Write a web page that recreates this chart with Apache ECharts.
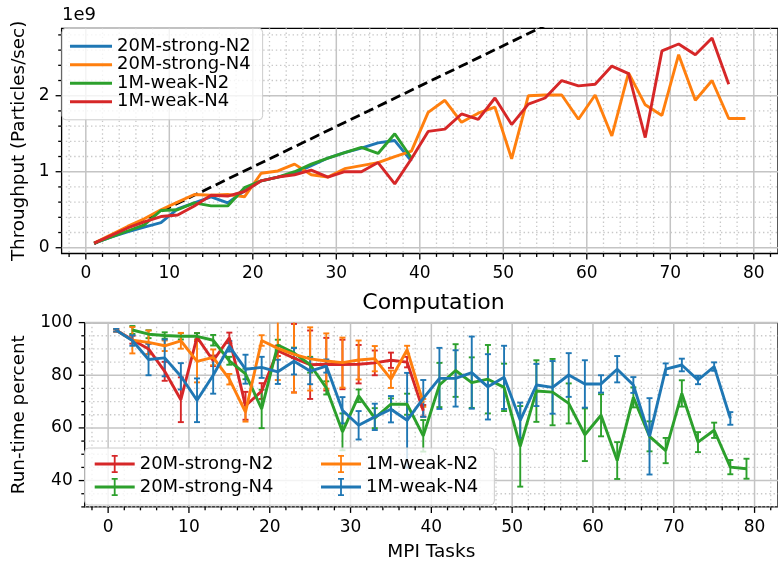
<!DOCTYPE html>
<html><head><meta charset="utf-8">
<script src="https://cdn.jsdelivr.net/npm/echarts@6/dist/echarts.min.js"></script>
<style>html,body{margin:0;padding:0;background:#fff}#c{width:778px;height:563px}</style>
</head><body><div id="c"></div>
<script>
// ---------- data ----------
const tasks = [1,3,5,7,9,11,13,15,17,19,21,23,25,27,29,31,33,35,37,39,41,43,45,47,49,51,53,55,57,59,61,63,65,67,69,71,73,75,77,79];

// Throughput (x 1e9 particles/sec)
const thrStrongN2 = [0.06,0.14,0.21,0.27,0.33,0.51,0.59,0.67,0.59,0.75,0.88,0.93,0.98,1.08,1.18,1.25,1.31,1.38,1.41,1.14];
const thrStrongN4 = [0.06,0.17,0.28,0.38,0.50,0.60,0.70,0.69,0.70,0.67,0.98,1.01,1.10,0.96,0.93,1.04,1.08,1.12,1.20,1.27,
                     1.78,1.94,1.65,1.77,1.85,1.17,2.00,2.01,2.01,1.69,2.01,1.47,2.30,1.88,1.74,2.54,1.94,2.20,1.70,1.70];
const thrWeakN2 = [0.06,0.14,0.22,0.30,0.49,0.50,0.59,0.55,0.55,0.79,0.88,0.93,1.00,1.10,1.18,1.25,1.32,1.24,1.50,1.18];
const thrWeakN4 = [0.06,0.16,0.26,0.34,0.41,0.43,0.55,0.69,0.68,0.74,0.88,0.93,0.96,1.02,0.93,1.00,1.00,1.12,0.84,1.17,
                   1.53,1.56,1.76,1.69,1.97,1.62,1.89,1.97,2.20,2.13,2.15,2.39,2.29,1.45,2.59,2.68,2.54,2.76,2.15];
const idealX = [1, 79];
const idealY = [0.053, 4.2];

// Run-time percent (mean and error)
const rtStrongN2 = [97.1,93.5,90.0,81.5,70.7,94.5,85.5,94.2,68.4,74.0,89.3,86.5,84.0,84.2,84.1,84.2,84.7,85.7,85.0,66.5];
const rtStrongN2Err = [0.5,1.5,2,3.6,8.5,1.5,2,2,5.3,3,2,13,13,10,9.4,7.3,4.7,2.9,2,2.2];
const rtStrongN4 = [97.2,95.6,95.1,94.8,94.8,93.3,85.5,80.5,67.2,91.5,88.5,84.0,75.2,58.5,72.2,63.7,69.0,69.0,57.0,76.3,
                    81.8,77.2,78.5,75.4,53.0,74.0,73.6,69.3,57.4,64.8,47.6,71.6,56.8,51.4,73.1,54.6,59.1,45.1,44.5];
const rtStrongN4Err = [1.5,1.5,1.2,1.2,1.2,2,1.5,2,7.3,2,2,3,2.5,7,2.4,3.8,2.2,4,6,8.4,
                       10,9.6,13,9,15.3,11.7,12.6,7.6,10,8,7,3.8,5.7,4.8,5,3.8,2.9,2.7,3.8];
const rtWeakN2 = [97.1,93.3,92.5,91.2,93.1,85.3,86.8,78.5,66.0,93.2,90.2,87.9,86.2,85.4,84.8,85.8,86.3,78.5,89.7,69.5];
const rtWeakN2Err = [0.5,5,4.5,2,3,8,3,2,3.6,2,12,14.5,12,10.5,9.5,7.4,4.8,3.3,1.5,1.5];
const rtWeakN4 = [97.1,93.2,86.0,86.6,79.6,70.5,80.0,91.0,82.3,83.0,81.3,85.3,81.6,83.5,66.7,61.0,64.2,67.1,62.9,71.2,
                  78.8,78.8,81.0,75.6,79.2,62.9,76.3,75.4,80.1,76.7,76.7,82.3,76.3,56.8,82.3,83.9,78.2,83.3,63.6];
const rtWeakN4Err = [0.5,2,6,7,5,8.3,7,2,5.5,4,4.6,5,5,2.5,5,5.4,5,5,18,7,
                     11.6,10.7,13.7,12.4,12,6.7,8,10,8.3,9,3.3,5,3,14.5,2.2,2.4,1.6,1.6,2.4];

// ticks
const xTicks = [0,10,20,30,40,50,60,70,80];
const xMinorTicks = [-2,2,4,6,8,12,14,16,18,22,24,26,28,32,34,36,38,42,44,46,48,52,54,56,58,62,64,66,68,72,74,76,78,82];
const topYTicks = [0,1,2];
const topYMinorTicks = [0.2,0.4,0.6,0.8,1.2,1.4,1.6,1.8,2.2,2.4,2.6,2.8];
const botYTicks = [40,60,80,100];
const botYMinorTicks = [30,35,45,50,55,65,70,75,85,90,95];

// ---------- style ----------
const FONT = 'DejaVu Sans';
const C = {blue:'#1f77b4', orange:'#ff7f0e', green:'#2ca02c', red:'#d62728'};
const MAJ = {stroke:'#c4c4c4', lineWidth:1.5};
const MIN = {stroke:'#c8c8c8', lineWidth:1.3, lineDash:[1.4,2.8]};
const TICK = {stroke:'#000', lineWidth:1.3};
const LW = 2.9;

const pair = (xs, ys) => ys.map((v, i) => [xs[i], v]);
const triple = (xs, ys, es) => ys.map((v, i) => [xs[i], v, es[i]]);

function deco(gi, vals, dir, major) {
  return {
    type: 'custom', xAxisIndex: gi, yAxisIndex: gi, silent: true, z: 1,
    data: vals.map(v => dir === 'v' ? [v, 50] : [0, v]),
    renderItem(params, api) {
      const cs = params.coordSys;
      const tl = major ? 6 : 3.4;
      if (dir === 'v') {
        const x = api.coord([api.value(0), 50])[0];
        return {type: 'group', children: [
          {type: 'line', shape: {x1: x, y1: cs.y, x2: x, y2: cs.y + cs.height}, style: major ? MAJ : MIN},
          {type: 'line', shape: {x1: x, y1: cs.y + cs.height, x2: x, y2: cs.y + cs.height + tl}, style: TICK}
        ]};
      }
      const y = api.coord([0, api.value(1)])[1];
      return {type: 'group', children: [
        {type: 'line', shape: {x1: cs.x, y1: y, x2: cs.x + cs.width, y2: y}, style: major ? MAJ : MIN},
        {type: 'line', shape: {x1: cs.x - tl, y1: y, x2: cs.x, y2: y}, style: TICK}
      ]};
    }
  };
}

function errSeries(name, xs, ys, es, color) {
  return {
    type: 'custom', xAxisIndex: 1, yAxisIndex: 1, silent: true, z: 3, name: name + '-err',
    data: triple(xs, ys, es),
    renderItem(params, api) {
      const cs = params.coordSys;
      const x = api.value(0), v = api.value(1), e = api.value(2);
      const hi = api.coord([x, v + e]), lo = api.coord([x, v - e]);
      const top = Math.max(hi[1], cs.y), bot = Math.min(lo[1], cs.y + cs.height);
      const st = {stroke: color, lineWidth: 1.9};
      const ch = [{type: 'line', shape: {x1: hi[0], y1: top, x2: hi[0], y2: bot}, style: st}];
      if (hi[1] >= cs.y) ch.push({type: 'line', shape: {x1: hi[0] - 3, y1: hi[1], x2: hi[0] + 3, y2: hi[1]}, style: st});
      if (lo[1] <= cs.y + cs.height) ch.push({type: 'line', shape: {x1: lo[0] - 3, y1: lo[1], x2: lo[0] + 3, y2: lo[1]}, style: st});
      return {type: 'group', children: ch};
    }
  };
}

function lineSeries(name, gi, data, color, z) {
  return {type: 'line', name, xAxisIndex: gi, yAxisIndex: gi, data, symbol: 'none', z: z || 3,
          lineStyle: {width: LW, color}, itemStyle: {color}, clip: true, animation: false};
}

const txt = {fontFamily: FONT, color: '#000'};
const EB = 'path://M0,7.6H40V10.4H0Z M19.1,0H20.9V18H19.1Z M17,0H23V1.8H17Z M17,16.2H23V18H17Z';
const strip = n => n.slice(2);

const option = {
  animation: false,
  backgroundColor: '#fff',
  grid: [
    {left: 61.6, top: 28.3, width: 720.4, height: 225.2, show: true, borderColor: '#000', borderWidth: 1.3, backgroundColor: 'transparent'},
    {left: 84.7, top: 322.6, width: 697.6, height: 184.3, show: true, borderColor: '#000', borderWidth: 1.3, backgroundColor: 'transparent'}
  ],
  xAxis: [
    {type: 'value', gridIndex: 0, min: -2.9, max: 82.9, axisLine: {show: false}, axisTick: {show: false}, splitLine: {show: false},
     axisLabel: {customValues: xTicks, fontSize: 17, margin: 12, ...txt}},
    {type: 'value', gridIndex: 1, min: -2.9, max: 82.9, axisLine: {show: false}, axisTick: {show: false}, splitLine: {show: false},
     axisLabel: {customValues: xTicks, fontSize: 17, margin: 12, ...txt},
     name: 'MPI Tasks', nameLocation: 'middle', nameGap: 36, nameTextStyle: {fontSize: 18.5, ...txt}}
  ],
  yAxis: [
    {type: 'value', gridIndex: 0, min: -0.076, max: 2.887, axisLine: {show: false}, axisTick: {show: false}, splitLine: {show: false},
     axisLabel: {customValues: topYTicks, fontSize: 17, margin: 12, ...txt},
     name: 'Throughput (Particles/sec)', nameLocation: 'middle', nameGap: 33, nameRotate: 90, nameTextStyle: {fontSize: 18.3, ...txt}},
    {type: 'value', gridIndex: 1, min: 30, max: 100, axisLine: {show: false}, axisTick: {show: false}, splitLine: {show: false},
     axisLabel: {customValues: botYTicks, fontSize: 17, margin: 12, ...txt},
     name: 'Run-time percent', nameLocation: 'middle', nameGap: 56, nameRotate: 90, nameTextStyle: {fontSize: 18.3, ...txt}}
  ],
  legend: [
    {left: 62, top: 28.3, orient: 'vertical', padding: [9, 12, 9, 8], itemGap: 0.5, itemWidth: 42, itemHeight: 3, icon: 'rect',
     selectedMode: false, formatter: strip, textStyle: {fontSize: 18, ...txt}, itemStyle: {borderWidth: 0},
     backgroundColor: 'rgba(255,255,255,0.8)', borderColor: '#cccccc', borderWidth: 1, borderRadius: 4,
     data: ['t:20M-strong-N2', 't:20M-strong-N4', 't:1M-weak-N2', 't:1M-weak-N4']},
    {left: 84.7, top: 448, orient: 'vertical', padding: [7, 221, 9, 10], itemGap: 5, itemWidth: 40, itemHeight: 18, icon: EB,
     symbolKeepAspect: false, selectedMode: false, formatter: strip, textStyle: {fontSize: 18, ...txt}, itemStyle: {borderWidth: 0},
     backgroundColor: 'rgba(255,255,255,0.8)', borderColor: '#cccccc', borderWidth: 1, borderRadius: 4,
     data: ['b:20M-strong-N2', 'b:20M-strong-N4']},
    {left: 321, top: 455, orient: 'vertical', padding: 0, itemGap: 5, itemWidth: 40, itemHeight: 18, icon: EB,
     symbolKeepAspect: false, selectedMode: false, formatter: strip, textStyle: {fontSize: 18, ...txt}, itemStyle: {borderWidth: 0},
     data: ['b:1M-weak-N2', 'b:1M-weak-N4']}
  ],
  graphic: [
    {type: 'text', left: 62, top: 6, style: {text: '1e9', fontSize: 18, fontFamily: FONT, fill: '#000'}},
    {type: 'text', x: 433.5, y: 292, style: {text: 'Computation', fontSize: 22, fontFamily: FONT, fill: '#000', align: 'center', verticalAlign: 'top'}}
  ],
  series: [
    deco(0, xTicks, 'v', true), deco(0, xMinorTicks, 'v', false),
    deco(0, topYTicks, 'h', true), deco(0, topYMinorTicks, 'h', false),
    deco(1, xTicks, 'v', true), deco(1, xMinorTicks, 'v', false),
    deco(1, botYTicks, 'h', true), deco(1, botYMinorTicks, 'h', false),
    {type: 'line', name: 'ideal', xAxisIndex: 0, yAxisIndex: 0, data: pair(idealX, idealY), symbol: 'none', z: 2, clip: true,
     lineStyle: {width: 2.8, color: '#000', type: [10, 5]}},
    lineSeries('t:20M-strong-N2', 0, pair(tasks, thrStrongN2), C.blue),
    lineSeries('t:20M-strong-N4', 0, pair(tasks, thrStrongN4), C.orange),
    lineSeries('t:1M-weak-N2', 0, pair(tasks, thrWeakN2), C.green),
    lineSeries('t:1M-weak-N4', 0, pair(tasks, thrWeakN4), C.red),
    lineSeries('b:20M-strong-N2', 1, pair(tasks, rtStrongN2), C.red),
    errSeries('b:20M-strong-N2', tasks, rtStrongN2, rtStrongN2Err, C.red),
    lineSeries('b:20M-strong-N4', 1, pair(tasks.slice(1), rtStrongN4), C.green),
    errSeries('b:20M-strong-N4', tasks.slice(1), rtStrongN4, rtStrongN4Err, C.green),
    lineSeries('b:1M-weak-N2', 1, pair(tasks, rtWeakN2), C.orange),
    errSeries('b:1M-weak-N2', tasks, rtWeakN2, rtWeakN2Err, C.orange),
    lineSeries('b:1M-weak-N4', 1, pair(tasks, rtWeakN4), C.blue),
    errSeries('b:1M-weak-N4', tasks, rtWeakN4, rtWeakN4Err, C.blue)
  ]
};
const chart = echarts.init(document.getElementById('c'), null, {renderer: 'canvas'});
chart.setOption(option);
</script></body></html>
